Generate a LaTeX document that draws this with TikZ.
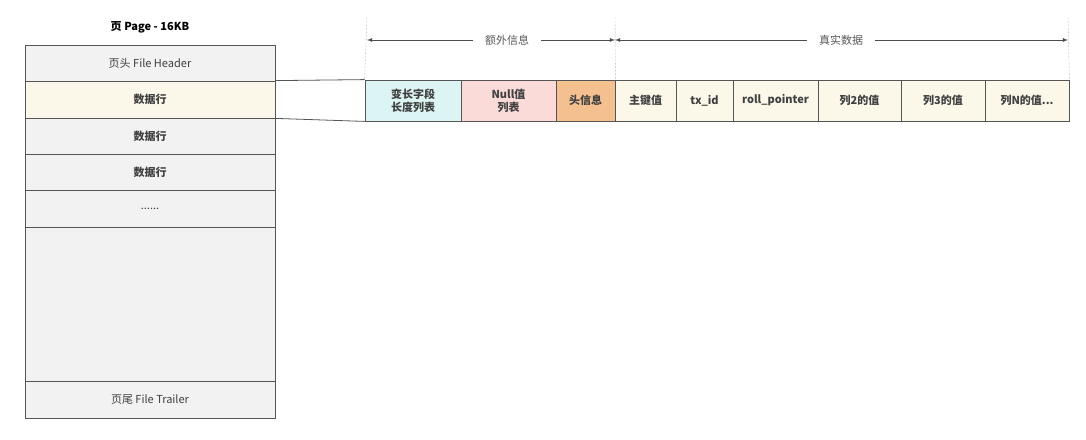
\documentclass[tikz,border=0pt]{standalone}
\usepackage{fontspec}
\setmainfont{Noto Sans CJK SC}
\usetikzlibrary{positioning,calc}
\definecolor{pagegrey}{HTML}{F2F2F2}
\definecolor{rowyellow}{HTML}{FBF8EA}
\definecolor{varcyan}{HTML}{DDF4F4}
\definecolor{nullpink}{HTML}{FADBD8}
\definecolor{headorange}{HTML}{F4C08F}
\definecolor{linegrey}{HTML}{555555}
\begin{document}
\begin{tikzpicture}[x=1pt,y=-1pt,>=latex,font=\fontsize{11}{13}\selectfont,inner sep=0pt]

    \tikzstyle{slot}=[draw=linegrey,thick,fill=pagegrey,minimum width=250pt,text=black!75]
    \tikzstyle{cell}=[draw=linegrey,thick,fill=rowyellow,align=center,font=\fontsize{11}{13}\selectfont\bfseries,text=black!75]
    \tikzstyle{guide}=[densely dotted,gray]
    \tikzstyle{span}=[<->,thick,draw=black!70]

    \useasboundingbox (0,0) rectangle (1086,439);

    % page
    \node[font=\fontsize{11}{13}\selectfont\bfseries] (title) at (150,27) {页 Page - 16KB};
    \node[slot,minimum height=36pt]           (hdr)  at (150,63)  {页头 File Header};
    \node[slot,fill=rowyellow,minimum height=37pt,font=\fontsize{11}{13}\selectfont\bfseries] (row1) at (150,99.5) {数据行};
    \node[slot,minimum height=36pt,font=\fontsize{11}{13}\selectfont\bfseries] (row2) at (150,136) {数据行};
    \node[slot,minimum height=36pt,font=\fontsize{11}{13}\selectfont\bfseries] (row3) at (150,172) {数据行};
    \node[slot,minimum height=37pt]           (dots) at (150,208.5) {......};
    \node[slot,minimum height=154pt]          (free) at (150,304) {};
    \node[slot,minimum height=37pt]           (trl)  at (150,399.5) {页尾 File Trailer};

    % record
    \node[cell,fill=varcyan,minimum width=96pt,minimum height=41pt]    (var)  at (413,100.5) {变长字段\\长度列表};
    \node[cell,fill=nullpink,minimum width=95pt,minimum height=41pt]   (null) at (508.5,100.5) {Null值\\列表};
    \node[cell,fill=headorange,minimum width=59pt,minimum height=41pt] (head) at (585.5,100.5) {头信息};
    \node[cell,minimum width=61pt,minimum height=41pt]  (pk)   at (645.5,100.5) {主键值};
    \node[cell,minimum width=57pt,minimum height=41pt]  (tx)   at (704.5,100.5) {tx\_id};
    \node[cell,minimum width=85pt,minimum height=41pt]  (roll) at (775.5,100.5) {roll\_pointer};
    \node[cell,minimum width=83pt,minimum height=41pt]  (col2) at (859.5,100.5) {列2的值};
    \node[cell,minimum width=84pt,minimum height=41pt]  (col3) at (943,100.5) {列3的值};
    \node[cell,minimum width=84pt,minimum height=41pt]  (colN) at (1027,100.5) {列N的值...};

    \draw[thick,draw=linegrey] (row1.north east) -- (var.north west)
                               (row1.south east) -- (var.south west);

    % spans
    \coordinate (e1) at (367,17);
    \coordinate (e2) at (615,17);
    \coordinate (e3) at (1068,17);
    \draw[guide] (e1) -- (var.north west);
    \draw[guide] (e2) -- (head.north east);
    \draw[guide] (e3) -- (colN.north east);

    \node[fill=white,inner xsep=12pt,text=black!65] (extra) at (507,40) {额外信息};
    \node[fill=white,inner xsep=12pt,text=black!65] (real)  at (841,40) {真实数据};
    \draw[->,thick,draw=black!70] (extra.west) -- (367,40);
    \draw[->,thick,draw=black!70] (extra.east) -- (615,40);
    \draw[->,thick,draw=black!70] (real.west) -- (615,40);
    \draw[->,thick,draw=black!70] (real.east) -- (1068,40);

\end{tikzpicture}
\end{document}
